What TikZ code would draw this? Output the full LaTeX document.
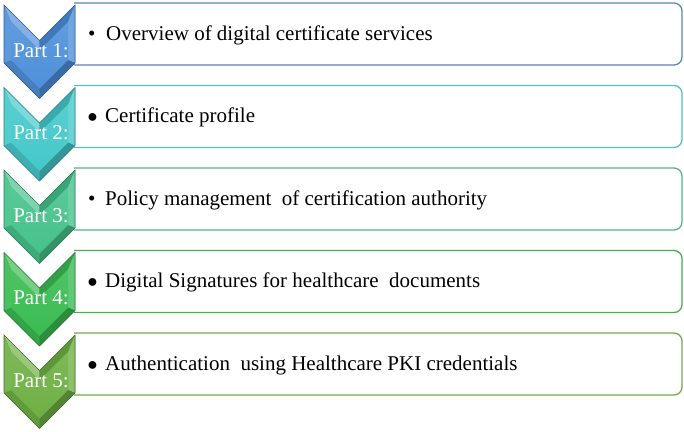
\documentclass[tikz,border=0pt]{standalone}
\usepackage{fontspec}
\setmainfont{Liberation Serif}
\definecolor{cA}{RGB}{78,144,218}
\definecolor{cB}{RGB}{68,200,202}
\definecolor{cC}{RGB}{70,194,140}
\definecolor{cD}{RGB}{58,188,82}
\definecolor{cE}{RGB}{110,176,68}
\definecolor{bA}{RGB}{88,132,186}
\definecolor{bB}{RGB}{84,192,194}
\definecolor{bC}{RGB}{82,182,134}
\definecolor{bD}{RGB}{72,172,80}
\definecolor{bE}{RGB}{118,168,78}
\newcommand\mychevron[2]{%
  \begin{scope}[yshift=-#1bp]
    \fill[#2!70!black] (4,2)--(39.5,37.5)--(75,2)--(75,60)--(39.5,95.5)--(4,60)--cycle;
    \fill[#2!70!white] (4,2)--(39.5,37.5)--(39.5,47.4)--(11,18.9)--cycle;
    \fill[#2!85!black] (39.5,37.5)--(75,2)--(68,18.9)--(39.5,47.4)--cycle;
    \fill[#2!80!white] (75,2)--(75,60)--(68,57.1)--(68,18.9)--cycle;
    \fill[#2!75!black] (75,60)--(39.5,95.5)--(39.5,85.6)--(68,57.1)--cycle;
    \fill[#2!88!black] (39.5,95.5)--(4,60)--(11,57.1)--(39.5,85.6)--cycle;
    \fill[#2!92!white] (4,60)--(4,2)--(11,18.9)--(11,57.1)--cycle;
    \shade[top color=#2!90!white, bottom color=#2] (11,18.9)--(39.5,47.4)--(68,18.9)--(68,57.1)--(39.5,85.6)--(11,57.1)--cycle;
    \draw[#2!65!black, line width=0.6bp, line join=miter] (4,2)--(39.5,37.5)--(75,2)--(75,60)--(39.5,95.5)--(4,60)--cycle;
  \end{scope}}
\newcommand\myrowbox[3]{% name, top, colour
  \node[boxbase, anchor=north west] (#1) at (74,#2) {};
  \draw[#3, line width=1.3bp, rounded corners=8bp] (#1.north west) -- (#1.north east) -- (#1.south east) -- (#1.south west);
}
\tikzset{
  boxbase/.style={draw=none, fill=white, minimum width=608bp, minimum height=62bp, inner sep=0pt, outer sep=0pt},
  partlabel/.style={anchor=base, text=white, inner sep=0pt, font=\fontsize{21bp}{25bp}\selectfont},
  itemtext/.style={anchor=base west, text=black, inner sep=0pt, font=\fontsize{21bp}{25bp}\selectfont},
}
\begin{document}
\begin{tikzpicture}[x=1bp,y=-1bp]
\useasboundingbox (0,0) rectangle (684,431);
\fill[white] (0,0) rectangle (684,431);
% boxes
\myrowbox{b1}{3}{bA}
\myrowbox{b2}{85.5}{bB}
\myrowbox{b3}{168}{bC}
\myrowbox{b4}{250.5}{bD}
\myrowbox{b5}{333}{bE}
% chevrons
\mychevron{3}{cA}
\mychevron{85.5}{cB}
\mychevron{168}{cC}
\mychevron{250.5}{cD}
\mychevron{333}{cE}
% labels
\node[partlabel] (p1) at (41,57) {Part 1:};
\node[partlabel] (p2) at (41,139.5) {Part 2:};
\node[partlabel] (p3) at (41,222) {Part 3:};
\node[partlabel] (p4) at (41,304.5) {Part 4:};
\node[partlabel] (p5) at (41,387) {Part 5:};
% texts
\node[itemtext] (t1) at (87,40) {\makebox[19bp][l]{\hspace{1bp}\textbullet}Overview of digital certificate services};
\node[itemtext] (t2) at (87,122.5) {\makebox[18bp][l]{\fontsize{18bp}{20bp}\selectfont ●}Certificate profile};
\node[itemtext] (t3) at (87,205) {\makebox[18bp][l]{\hspace{1bp}\textbullet}Policy management\ \ of certification authority};
\node[itemtext] (t4) at (87,287.5) {\makebox[18bp][l]{\fontsize{18bp}{20bp}\selectfont ●}Digital Signatures for healthcare\ \ documents};
\node[itemtext] (t5) at (87,370) {\makebox[18bp][l]{\fontsize{18bp}{20bp}\selectfont ●}Authentication\ \ using Healthcare PKI credentials};
\end{tikzpicture}
\end{document}
